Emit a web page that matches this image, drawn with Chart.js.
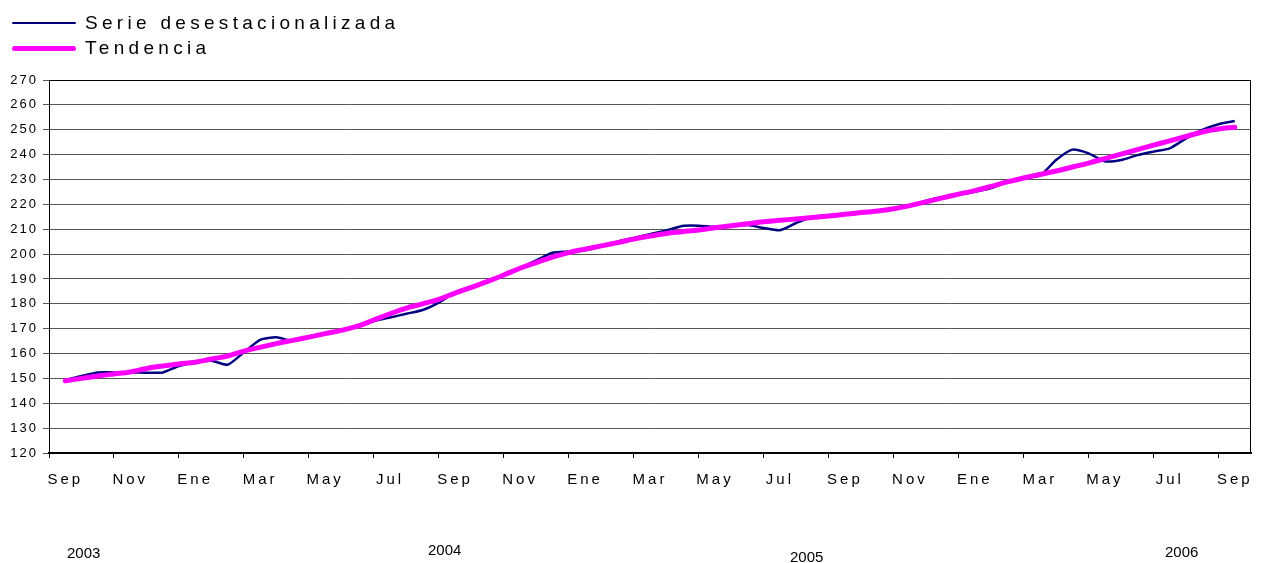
<!DOCTYPE html>
<html>
<head>
<meta charset="utf-8">
<script src="https://cdn.jsdelivr.net/npm/chart.js@4/dist/chart.umd.min.js"></script>
<style>
  body { margin: 0; background: #fff; font-family: 'Liberation Sans', Arial, sans-serif; }
  #wrap { position: relative; width: 1265px; height: 563px; overflow: hidden; }
  #chart { position: absolute; left: 0; top: 0; }
  .leg { position: absolute; left: 12px; display: flex; align-items: center; font-size: 19px; letter-spacing: 4.3px; color: #000; white-space: nowrap; }
  .leg .sample { display: inline-block; width: 64px; margin-right: 9px; border-radius: 3px; }
  .year { position: absolute; font-size: 15px; color: #000; }
</style>
</head>
<body>
<div id="wrap">
  <canvas id="chart" width="1265" height="563"></canvas>
  <div class="leg" style="top:12px"><span class="sample" style="height:2px;background:#000080"></span>Serie desestacionalizada</div>
  <div class="leg" style="top:37px"><span class="sample" style="height:5px;background:#ff00ff"></span>Tendencia</div>
  <div id="years"></div>
</div>
<script>
  // month labels shown every two months, Sep 2003 - Sep 2006
  const tickLabels = ['Sep', 'Nov', 'Ene', 'Mar', 'May', 'Jul',
                      'Sep', 'Nov', 'Ene', 'Mar', 'May', 'Jul',
                      'Sep', 'Nov', 'Ene', 'Mar', 'May', 'Jul', 'Sep'];
  const yearLabels = ['2003', '2004', '2005', '2006'];

  // half-month readings, from Sep 2003 to Sep 2006
  const serieDesest = [
    149.4, 151, 152.4, 152.4, 152.4, 152.3, 152.4, 155, 156.5, 157.1, 155.5, 160.5,
    165.5, 166.5, 165, 166.5, 168, 169.5, 171, 173, 174.5, 176, 177.5, 180.5,
    184.5, 187, 189, 191.5, 194.5, 197.5, 200.5, 201, 201.5, 203, 205, 206.5,
    208, 209.5, 211.3, 211.4, 211, 211.3, 211.7, 210.5, 209.6, 212.5, 215, 215.5,
    216, 216.5, 217.2, 218, 219.5, 221.5, 223, 223.8, 225, 226.5, 229.2, 230.8,
    231.5, 237.8, 242, 240.5, 237.3, 237.8, 239.8, 241.2, 242.5, 246.5, 249.9, 252.2,
    253.5
  ];
  const tendencia = [
    149, 150, 151, 151.8, 152.6, 154, 155, 155.8, 156.5, 157.8, 159, 161,
    162.5, 164, 165.3, 166.6, 168, 169.3, 171, 173.5, 176, 178.3, 180, 181.8,
    184.3, 186.6, 189, 191.6, 194.3, 196.6, 198.8, 200.6, 202, 203.3, 204.6, 206,
    207.2, 208.3, 209, 209.7, 210.6, 211.4, 212.2, 213, 213.6, 214.1, 214.7, 215.3,
    216, 216.7, 217.3, 218.2, 219.5, 221, 222.6, 224.1, 225.5, 227.2, 229, 230.6,
    232, 233.4, 235, 236.6, 238.4, 240.2, 242, 243.8, 245.5, 247.3, 249.1, 250.3,
    251
  ];

  const FONT = "'Liberation Sans', Arial, sans-serif";

  // one empty slot at each end, month names sit every 4 half-month slots
  const labels = [];
  for (let i = 0; i < serieDesest.length + 2; i++) {
    labels.push(i % 4 === 1 ? tickLabels[(i - 1) / 4] : '');
  }
  const pad = arr => [null, ...arr, null];

  // years sit loose under the axis, like text boxes
  const yearPos = [[67, 544], [428, 541], [790, 548], [1165, 543]];
  const yearsDiv = document.getElementById('years');
  yearLabels.forEach((y, i) => {
    const d = document.createElement('div');
    d.className = 'year';
    d.textContent = y;
    d.style.left = yearPos[i][0] + 'px';
    d.style.top = yearPos[i][1] + 'px';
    yearsDiv.appendChild(d);
  });

  const frame = {
    id: 'frame',
    beforeDraw(chart) {
      chart.ctx.letterSpacing = '2px';
    },
    afterDatasetsDraw(chart) {
      chart.ctx.letterSpacing = '3px';
    },
    afterDraw(chart) {
      const { ctx, chartArea: a } = chart;
      ctx.save();
      ctx.strokeStyle = '#000';
      ctx.lineWidth = 1;
      ctx.strokeRect(Math.round(a.left) + 0.5, Math.round(a.top) + 0.5,
                     Math.round(a.right - a.left) - 1, Math.round(a.bottom - a.top));
      ctx.restore();
      ctx.letterSpacing = '0px';
    }
  };

  new Chart(document.getElementById('chart'), {
    type: 'line',
    data: {
      labels: labels,
      datasets: [
        {
          label: 'Tendencia',
          data: pad(tendencia),
          borderColor: '#ff00ff',
          borderWidth: 5,
          pointRadius: 0,
          tension: 0.4,
          borderCapStyle: 'round',
          order: 0
        },
        {
          label: 'Serie desestacionalizada',
          data: pad(serieDesest),
          borderColor: '#000080',
          borderWidth: 2.5,
          pointRadius: 0,
          tension: 0.2,
          order: 1
        }
      ]
    },
    options: {
      responsive: false,
      animation: false,
      devicePixelRatio: 1,
      layout: { padding: { top: 80, right: 14, left: 0, bottom: 0 } },
      plugins: { legend: { display: false }, tooltip: { enabled: false } },
      scales: {
        x: {
          type: 'category',
          offset: false,
          grid: {
            drawOnChartArea: false,
            tickLength: 5,
            color: c => (c.index % 4 === 0 ? '#000' : 'rgba(0,0,0,0)')
          },
          border: { color: '#000', width: 2 },
          ticks: {
            autoSkip: false,
            maxRotation: 0,
            minRotation: 0,
            padding: 13,
            color: '#000',
            font: { family: FONT, size: 15 },
            z: 1,
            callback: (v, i) => labels[i]
          },
          afterFit: s => { s.height = 110; }
        },
        y: {
          min: 120,
          max: 270,
          grid: { color: '#555', tickLength: 6 },
          border: { color: '#000', width: 1 },
          ticks: {
            stepSize: 10,
            padding: 5,
            color: '#000',
            font: { family: FONT, size: 13 }
          },
          afterFit: s => { s.width = 49; }
        }
      }
    },
    plugins: [frame]
  });
</script>
</body>
</html>
